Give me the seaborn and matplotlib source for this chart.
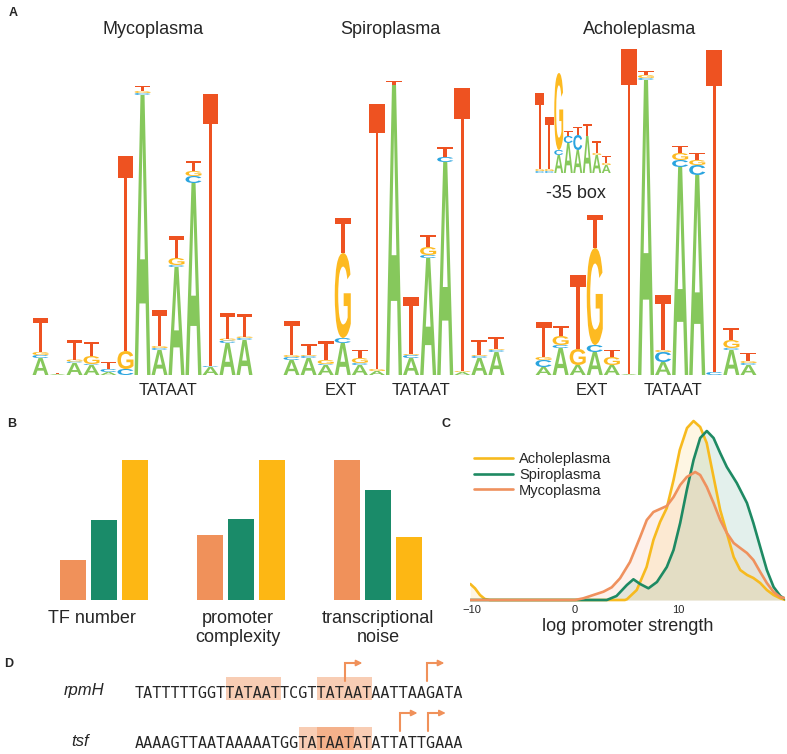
import numpy as np
import pandas as pd
import matplotlib
matplotlib.use("Agg")
import matplotlib.pyplot as plt
import seaborn as sns
from matplotlib.textpath import TextPath
from matplotlib.patches import PathPatch, Rectangle
from matplotlib.font_manager import FontProperties
import matplotlib.transforms as mtrans

W, H = 787, 754
sns.set_style("white")
plt.rcParams["font.family"] = ["Liberation Sans", "DejaVu Sans"]

# ---------------- data ----------------
GENERA = ["Mycoplasma", "Spiroplasma", "Acholeplasma"]

# sequence logos: letter heights per position (stacked A, C, G, T)
myco_A = [17, 1, 12, 10, 3, 0, 280, 25, 108, 192, 8, 32, 35]
myco_C = [3, 0, 1.5, 1, 3, 6, 2, 2, 2, 7, 1, 2.5, 2]
myco_G = [3, 0, 2, 8, 0, 18, 2, 2, 7, 5, 0, 2, 1.5]
myco_T = [34, 1.5, 20, 14, 7, 195, 5, 36, 22, 10, 272, 26, 23]

spiro_A = [15, 17, 10, 32, 10, 4, 290, 17, 117, 213, 3, 17, 23]
spiro_C = [3, 2, 1, 5, 2, 0, 0, 3, 3, 5, 0, 2, 2]
spiro_G = [2, 1, 4, 85, 5, 2, 0, 1, 8, 0, 1, 1, 1]
spiro_T = [34, 11, 19, 35, 8, 265, 4, 57, 12, 10, 283, 15, 12]

achole_A = [8, 27, 10, 23, 10, 1, 295, 13, 208, 200, 0, 25, 10]
achole_C = [7, 3, 0, 7, 0, 0, 2, 10, 7, 10, 3, 2, 2]
achole_G = [3, 9, 16, 97, 8, 0, 3, 2, 7, 5, 0, 8, 2]
achole_T = [35, 10, 74, 33, 7, 325, 4, 55, 7, 7, 322, 12, 8]

box35_A = [0, 0, 18, 30, 23, 37, 18, 8]
box35_C = [2, 2, 5, 7, 15, 0, 0, 0]
box35_G = [2, 2, 77, 0, 0, 0, 2, 2]
box35_T = [76, 52, 0, 5, 8, 12, 12, 7]

# panel B
B_FEATURES = ["TF number", "promoter complexity", "transcriptional noise"]
B_TICKLABELS = ["TF number", "promoter\ncomplexity", "transcriptional\nnoise"]
B_myco = [0.286, 0.464, 1.0]
B_spiro = [0.571, 0.581, 0.786]
B_achole = [1.0, 1.0, 0.448]

# panel C: density curves
C_achole_x = [-10.1, -9.65, -9.17, -8.7, -8.2, 4.8, 5.0, 5.95, 6.9, 7.56, 8.2, 8.85, 9.5,
              10.1, 10.8, 11.43, 12.07, 12.7, 13.36, 14.0, 14.64, 15.3, 15.93, 16.6, 17.2,
              17.86, 18.5, 19.15, 19.8, 20.3]
C_achole_y = [16, 11.7, 5, 1, 0, 0, 0.7, 10, 33, 60, 78, 92, 120, 150, 172, 179, 173, 157,
              123, 90, 67, 43, 30, 25, 22, 17, 10, 5, 1.7, 0]
C_spiro_x = [-10.1, 3.06, 4.0, 5.0, 5.63, 6.28, 7.08, 7.9, 8.85, 9.5, 10.14, 10.78, 11.43,
             12.07, 12.71, 13.36, 14.0, 14.64, 15.6, 16.58, 17.2, 17.86, 18.5, 19.15, 19.8, 20.3]
C_spiro_y = [0, 0, 4, 15, 20.7, 16, 11.7, 18, 33, 50, 77, 110, 140, 162, 169, 162, 147, 133,
             117, 97, 77, 53, 30, 13, 4, 0.7]
C_myco_x = [-10.1, 0, 0.8, 1.77, 2.74, 3.54, 4.34, 5.3, 6.28, 6.92, 7.56, 8.2, 8.85, 9.5,
            10.14, 10.78, 11.59, 12.07, 12.71, 13.36, 14.0, 14.64, 15.3, 15.93, 16.58, 17.2,
            17.86, 18.5, 19.15, 19.8, 20.3]
C_myco_y = [0, 0, 1.7, 5, 8.3, 12.7, 21.7, 38, 63, 80, 88, 91, 94, 103, 115, 123, 128, 125,
            113, 97, 80, 67, 57, 52, 47, 40, 28, 17, 8, 3, 1.7]

# panel D
seq_names = ["rpmH", "tsf"]
seq_texts = ["TATTTTTGGTTATAATTCGTTATAATAATTAAGATA",
             "AAAAGTTAATAAAAATGGTATAATATATTATTGAAA"]
seq_boxes = [[(10, 16), (20, 26)], [(18, 24), (20, 26)]]
seq_tss = [[23.05, 32.05], [29.1, 32.2]]

# colours
NUC_COLORS = {"A": "#86C85C", "C": "#2AA4DF", "G": "#FDBA21", "T": "#EE5221"}
GEN_COLORS = {"Mycoplasma": "#F0915A", "Spiroplasma": "#1A8B69", "Acholeplasma": "#FDB714"}
LINE_COLORS = {"Mycoplasma": "#EF915E", "Spiroplasma": "#1E8A63", "Acholeplasma": "#F7BA1E"}

# ---------------- figure ----------------
fig = plt.figure(figsize=(W / 100, H / 100), dpi=100)


def px_axes(x0, y0, x1, y1):
    return fig.add_axes([x0 / W, 1 - y1 / H, (x1 - x0) / W, (y1 - y0) / H])


def ftext(x, y, s, **kw):
    return fig.text(x / W, 1 - y / H, s, **kw)


FP_BOLD = FontProperties(family="Liberation Sans", weight="bold")
FP_REG = FontProperties(family="Liberation Sans", weight="normal")
_glyphs = {}


def draw_letter(ax, ch, x, y, w, h, color):
    fp = FP_REG if (ch == "T" and h > 100) else FP_BOLD
    key = (ch, fp is FP_REG)
    if key not in _glyphs:
        _glyphs[key] = TextPath((0, 0), ch, size=1, prop=fp)
    p = _glyphs[key]
    ext = p.get_extents()
    t = (mtrans.Affine2D().translate(-ext.x0, -ext.y0)
         .scale(w / ext.width, h / ext.height).translate(x, y))
    ax.add_patch(PathPatch(t.transform_path(p), fc=color, ec="none", lw=0))


def draw_logo(ax, A, C, G, T, ymax):
    n = len(A)
    for i in range(n):
        y = 0.0
        for nuc, vals in zip("ACGT", (A, C, G, T)):
            h = vals[i]
            if h > 0.3:
                draw_letter(ax, nuc, i + 0.03, y, 0.94, h, NUC_COLORS[nuc])
            y += h
    ax.set_xlim(0, n)
    ax.set_ylim(0, ymax)
    ax.axis("off")


# ---- panel A ----
axM = px_axes(32, 45, 253, 375)
draw_logo(axM, myco_A, myco_C, myco_G, myco_T, 330)
axS = px_axes(283, 45, 505, 375)
draw_logo(axS, spiro_A, spiro_C, spiro_G, spiro_T, 330)
axA = px_axes(535, 45, 757, 375)
draw_logo(axA, achole_A, achole_C, achole_G, achole_T, 330)
axI = px_axes(535, 63, 611, 173)
draw_logo(axI, box35_A, box35_C, box35_G, box35_T, 110)

axM.text(8.0, -15, "TATAAT", ha="center", va="center", fontsize=12)
axS.text(8.1, -15, "TATAAT", ha="center", va="center", fontsize=12)
axS.text(3.4, -15, "EXT", ha="center", va="center", fontsize=12)
axA.text(8.1, -15, "TATAAT", ha="center", va="center", fontsize=12)
axA.text(3.3, -15, "EXT", ha="center", va="center", fontsize=12)

ftext(153, 29, "Mycoplasma", ha="center", va="center", fontsize=13)
ftext(390, 29, "Spiroplasma", ha="center", va="center", fontsize=13)
ftext(640, 29, "Acholeplasma", ha="center", va="center", fontsize=13)
ftext(576, 193, "-35 box", ha="center", va="center", fontsize=13)

ftext(13, 13, "A", ha="center", va="center", fontsize=9, fontweight="bold")
ftext(12, 424, "B", ha="center", va="center", fontsize=9, fontweight="bold")
ftext(446, 424, "C", ha="center", va="center", fontsize=9, fontweight="bold")
ftext(9, 664, "D", ha="center", va="center", fontsize=9, fontweight="bold")

# ---- panel B ----
dfB = pd.DataFrame({
    "feature": B_FEATURES * 3,
    "genus": [g for g in GENERA for _ in B_FEATURES],
    "value": B_myco + B_spiro + B_achole,
})
axB = px_axes(35.5, 440, 446.5, 600)
sns.barplot(data=dfB, x="feature", y="value", hue="genus", order=B_FEATURES,
            hue_order=GENERA, palette=GEN_COLORS, width=0.68, gap=0.16,
            saturation=1, legend=False, ax=axB, linewidth=0, edgecolor="none")
axB.set_xlim(-0.5, 2.5)
axB.set_ylim(0, 160 / 140)
sns.despine(ax=axB, left=True, bottom=True)
axB.set_yticks([])
axB.set_xlabel("")
axB.set_ylabel("")
axB.set_xticks([-0.09, 0.98, 2.0], labels=B_TICKLABELS, fontsize=13)
axB.tick_params(axis="x", length=0, pad=7)

# ---- panel C ----
dfC = pd.concat([
    pd.DataFrame({"x": C_achole_x, "density": C_achole_y, "genus": "Acholeplasma"}),
    pd.DataFrame({"x": C_spiro_x, "density": C_spiro_y, "genus": "Spiroplasma"}),
    pd.DataFrame({"x": C_myco_x, "density": C_myco_y, "genus": "Mycoplasma"}),
], ignore_index=True)
axC = px_axes(470, 415, 785, 602)
order_C = ["Acholeplasma", "Spiroplasma", "Mycoplasma"]
for g in order_C:
    sub = dfC[dfC["genus"] == g]
    axC.fill_between(sub["x"], sub["density"], 0, color=LINE_COLORS[g], alpha=0.12, lw=0)
sns.lineplot(data=dfC, x="x", y="density", hue="genus", hue_order=order_C,
             palette=LINE_COLORS, estimator=None, sort=False, lw=1.9, ax=axC)
axC.set_xlim(-10.13, 20.25)
axC.set_ylim(-2, 185)
sns.despine(ax=axC, left=True, bottom=True)
axC.set_yticks([])
axC.set_ylabel("")
axC.set_xticks([-10, 0, 10], labels=["\u221210", "0", "10"], fontsize=8)
axC.tick_params(axis="x", length=0, pad=2)
axC.set_xlabel("log promoter strength", fontsize=13, labelpad=2)
handles, labels = axC.get_legend_handles_labels()
axC.legend(handles, labels, frameon=False, fontsize=10.5, loc="upper left",
           bbox_to_anchor=(474 / W, 1 - 452 / H), bbox_transform=fig.transFigure,
           borderpad=0, borderaxespad=0, handlelength=2.7, handletextpad=0.4,
           labelspacing=0.12)

# ---- panel D ----
axD = px_axes(135, 650, 463, 754)
axD.set_xlim(0, 36)
axD.set_ylim(104, 0)
axD.axis("off")
row_y = [41, 91]
for name, seq, boxes, tss, yc in zip(seq_names, seq_texts, seq_boxes, seq_tss, row_y):
    for (b0, b1) in boxes:
        axD.add_patch(Rectangle((b0, yc - 14), b1 - b0, 23, fc="#F0915A", alpha=0.45,
                                ec="none", zorder=1))
    axD.text(0, yc + 7, seq, family="DejaVu Sans Mono", fontsize=10.9, ha="left",
             va="baseline", zorder=3)
    for xs in tss:
        axD.plot([xs, xs, xs + 1.3], [yc - 10, yc - 28, yc - 28], color="#F0915A",
                 lw=1.5, solid_joinstyle="miter", zorder=2)
        axD.annotate("", xy=(xs + 1.9, yc - 28), xytext=(xs + 1.2, yc - 28),
                     arrowprops=dict(arrowstyle="-|>", color="#F0915A", lw=1.2,
                                     mutation_scale=9, shrinkA=0, shrinkB=0))
    ftext(84 if name == "rpmH" else 80, 650 + yc, name, ha="center", va="center",
          fontsize=12, style="italic")

fig.savefig("out.png", dpi=100)
